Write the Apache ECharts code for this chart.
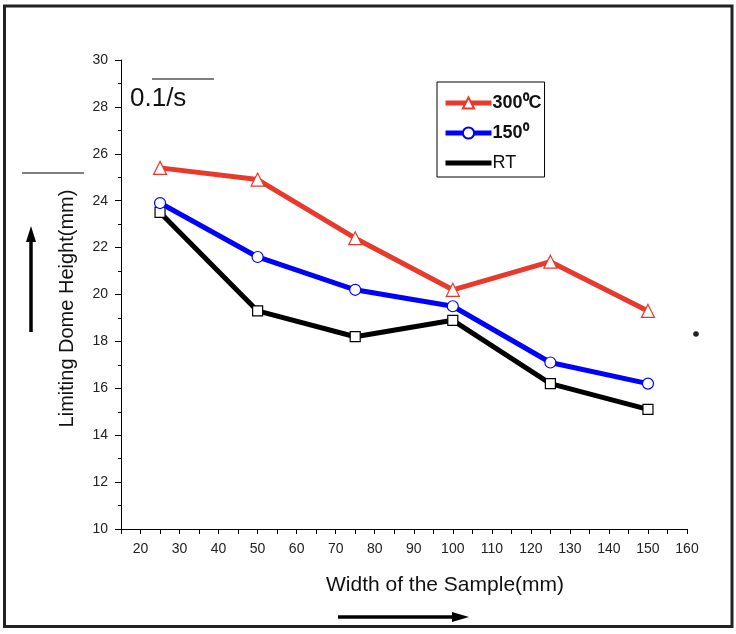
<!DOCTYPE html>
<html>
<head>
<meta charset="utf-8">
<script src="https://cdn.jsdelivr.net/npm/echarts@6/dist/echarts.min.js"></script>
<style>
  html, body { margin: 0; padding: 0; background: #fff; }
  #main { width: 736px; height: 634px; }
</style>
</head>
<body>
<div id="main"></div>
<script>
// sample widths (mm)
var widths = [25, 50, 75, 100, 125, 150];
// limiting dome height (mm) per temperature
var heights300 = [25.4, 24.9, 22.4, 20.2, 21.4, 19.3];
var heights150 = [23.9, 21.6, 20.2, 19.5, 17.1, 16.2];
var heightsRT = [23.5, 19.3, 18.2, 18.9, 16.2, 15.1];
var seriesNames = ['300⁰C', '150⁰', 'RT'];

function pairs(ys) {
  return widths.map(function (w, i) { return [w, ys[i]]; });
}

var chart = echarts.init(document.getElementById('main'));
var font = 'Liberation Sans, Arial, sans-serif';

var option = {
  backgroundColor: '#ffffff',
  animation: false,
  textStyle: { fontFamily: font },
  grid: { left: 121, top: 60, right: 49, bottom: 105 },
  legend: {
    orient: 'vertical',
    left: 437,
    top: 82,
    padding: [12, 3, 5, 6],
    itemGap: 12,
    itemWidth: 46,
    itemHeight: 14,
    borderColor: '#000',
    borderWidth: 1,
    lineStyle: { width: 5 },
    textStyle: { fontSize: 18, fontFamily: font, color: '#111', padding: [0, 0, 0, -4] },
    data: [
      { name: seriesNames[0], textStyle: { fontWeight: 'bold' } },
      { name: seriesNames[1], textStyle: { fontWeight: 'bold' } },
      { name: seriesNames[2], itemStyle: { opacity: 0 } }
    ]
  },
  xAxis: {
    type: 'value',
    min: 15,
    max: 160,
    interval: 5,
    name: 'Width of the Sample(mm)',
    nameLocation: 'middle',
    nameGap: 46,
    nameTextStyle: { fontSize: 21, color: '#111', padding: [0, 0, 0, 82] },
    axisLine: { lineStyle: { color: '#000', width: 1 } },
    axisTick: { length: 5, lineStyle: { color: '#000' } },
    axisLabel: {
      fontSize: 14,
      color: '#222',
      margin: 13,
      formatter: function (v) { return v % 10 === 0 ? String(v) : ''; }
    },
    splitLine: { show: false }
  },
  yAxis: {
    type: 'value',
    min: 10,
    max: 30,
    interval: 2,
    name: 'Limiting Dome Height(mm)',
    nameLocation: 'middle',
    nameGap: 44,
    nameTextStyle: { fontSize: 20, color: '#111', padding: [0, 28, 0, 0] },
    axisLine: { show: true, lineStyle: { color: '#000', width: 1 } },
    axisTick: { show: true, length: 6, lineStyle: { color: '#000' } },
    minorTick: { show: true, splitNumber: 2, length: 3, lineStyle: { color: '#000' } },
    axisLabel: { fontSize: 14, color: '#222', margin: 13 },
    splitLine: { show: false }
  },
  series: [
    {
      name: seriesNames[0],
      type: 'line',
      data: pairs(heights300),
      symbol: 'triangle',
      symbolSize: 13,
      lineStyle: { color: '#e8392b', width: 5 },
      itemStyle: { color: '#ffffff', borderColor: '#e8392b', borderWidth: 1.2 },
      z: 3
    },
    {
      name: seriesNames[1],
      type: 'line',
      data: pairs(heights150),
      symbol: 'circle',
      symbolSize: 11,
      lineStyle: { color: '#0000ff', width: 5 },
      itemStyle: { color: '#ffffff', borderColor: '#0000ff', borderWidth: 1.2 },
      z: 3
    },
    {
      name: seriesNames[2],
      type: 'line',
      data: pairs(heightsRT),
      symbol: 'rect',
      symbolSize: 10,
      lineStyle: { color: '#000000', width: 5 },
      itemStyle: { color: '#ffffff', borderColor: '#000000', borderWidth: 1.2 },
      z: 2
    }
  ],
  graphic: [
    // outer frame
    {
      type: 'rect',
      shape: { x: 4.5, y: 6, width: 727.5, height: 620.5 },
      style: { fill: 'none', stroke: '#222', lineWidth: 3 },
      silent: true
    },
    // strain rate note
    {
      type: 'line',
      shape: { x1: 152, y1: 79, x2: 214, y2: 79 },
      style: { stroke: '#555', lineWidth: 1.5 }
    },
    {
      type: 'text',
      left: 130,
      top: 86,
      style: { text: '0.1/s', fontSize: 26, fontFamily: font, fill: '#111' }
    },
    // line above y label
    {
      type: 'line',
      shape: { x1: 22, y1: 173, x2: 84, y2: 173 },
      style: { stroke: '#555', lineWidth: 1.5 }
    },
    // y arrow
    {
      type: 'line',
      shape: { x1: 31, y1: 332, x2: 31, y2: 238 },
      style: { stroke: '#000', lineWidth: 3.5 }
    },
    {
      type: 'polygon',
      shape: { points: [[31, 226], [26, 242], [36, 242]] },
      style: { fill: '#000' }
    },
    // x arrow
    {
      type: 'line',
      shape: { x1: 338, y1: 617, x2: 456, y2: 617 },
      style: { stroke: '#000', lineWidth: 3.5 }
    },
    {
      type: 'polygon',
      shape: { points: [[469, 617], [452, 612], [452, 622]] },
      style: { fill: '#000' }
    },
    // stray dot
    {
      type: 'circle',
      shape: { cx: 696, cy: 334, r: 2.8 },
      style: { fill: '#222' }
    }
  ]
};

chart.setOption(option);
</script>
</body>
</html>
